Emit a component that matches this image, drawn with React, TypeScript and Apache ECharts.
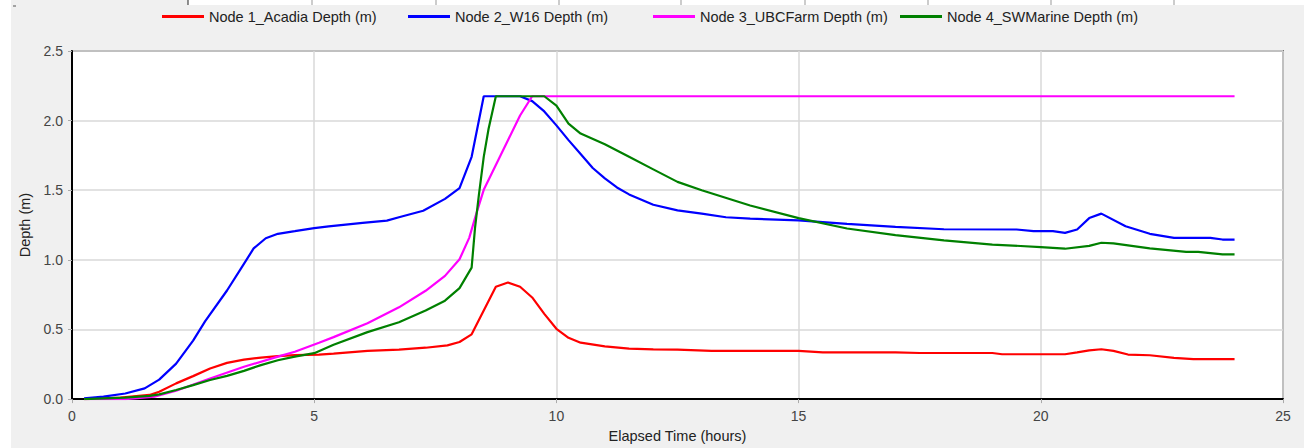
import React, { useEffect, useRef } from "react";
import * as echarts from "echarts";

const seriesNames = [
  "Node 1_Acadia Depth (m)",
  "Node 2_W16 Depth (m)",
  "Node 3_UBCFarm Depth (m)",
  "Node 4_SWMarine Depth (m)",
];
const seriesColors = ["#ff0000", "#0000ff", "#ff00ff", "#008000"];

// [elapsed hours, depth m]
const acadia = [
  [0.25, 0], [1.0, 0.01], [1.6, 0.03], [1.8, 0.053], [2.15, 0.113], [2.5, 0.165],
  [2.85, 0.22], [3.2, 0.26], [3.55, 0.284], [3.9, 0.298], [4.25, 0.308], [4.6, 0.316],
  [5.1, 0.32], [5.4, 0.327], [6.1, 0.346], [6.75, 0.355], [7.3, 0.369], [7.75, 0.386],
  [8.0, 0.41], [8.25, 0.465], [8.5, 0.636], [8.75, 0.807], [9.0, 0.837], [9.25, 0.807],
  [9.5, 0.73], [9.75, 0.612], [10.0, 0.505], [10.25, 0.44], [10.5, 0.405], [11.0, 0.379],
  [11.5, 0.362], [12.0, 0.357], [12.5, 0.355], [13.2, 0.346], [15.0, 0.346], [15.5, 0.336],
  [17.0, 0.336], [17.5, 0.331], [19.0, 0.331], [19.2, 0.322], [20.5, 0.322], [20.75, 0.335],
  [21.0, 0.35], [21.25, 0.358], [21.5, 0.346], [21.8, 0.32], [22.25, 0.315], [22.75, 0.296],
  [23.15, 0.287], [24.0, 0.287],
];
const w16 = [
  [0.25, 0.005], [0.65, 0.018], [1.1, 0.04], [1.5, 0.077], [1.8, 0.14], [2.15, 0.255],
  [2.5, 0.42], [2.75, 0.56], [3.2, 0.78], [3.5, 0.944], [3.75, 1.082], [4.0, 1.155],
  [4.25, 1.187], [4.6, 1.206], [5.0, 1.228], [5.3, 1.241], [6.0, 1.265], [6.5, 1.282],
  [6.75, 1.306], [7.25, 1.353], [7.7, 1.438], [8.0, 1.515], [8.25, 1.74], [8.5, 2.175],
  [9.25, 2.175], [9.5, 2.14], [9.75, 2.066], [10.0, 1.966], [10.25, 1.86], [10.5, 1.76],
  [10.75, 1.66], [11.0, 1.585], [11.25, 1.52], [11.5, 1.47], [12.0, 1.396], [12.5, 1.355],
  [13.0, 1.332], [13.5, 1.306], [14.0, 1.296], [15.0, 1.284], [16.0, 1.258], [17.0, 1.237],
  [18.0, 1.22], [19.5, 1.218], [19.85, 1.206], [20.25, 1.206], [20.5, 1.194], [20.75, 1.218],
  [21.0, 1.3], [21.25, 1.332], [21.75, 1.241], [22.25, 1.187], [22.75, 1.158], [23.5, 1.158],
  [23.75, 1.146], [24.0, 1.146],
];
const ubcFarm = [
  [0.25, 0], [1.1, 0], [1.7, 0.018], [2.15, 0.06], [2.85, 0.148], [3.55, 0.232],
  [4.25, 0.305], [4.6, 0.34], [5.1, 0.405], [5.4, 0.445], [6.1, 0.545], [6.75, 0.659],
  [7.3, 0.778], [7.7, 0.885], [8.0, 1.004], [8.2, 1.158], [8.35, 1.336], [8.5, 1.503],
  [8.75, 1.681], [9.0, 1.859], [9.25, 2.037], [9.5, 2.175], [24.0, 2.175],
];
const swMarine = [
  [0.25, 0], [1.1, 0.01], [1.6, 0.023], [1.8, 0.034], [2.15, 0.065], [2.5, 0.1],
  [2.85, 0.137], [3.2, 0.167], [3.55, 0.203], [3.9, 0.244], [4.25, 0.279], [4.6, 0.305],
  [5.0, 0.33], [5.4, 0.39], [6.1, 0.481], [6.75, 0.552], [7.3, 0.636], [7.7, 0.707],
  [8.0, 0.797], [8.25, 0.944], [8.32, 1.23], [8.4, 1.467], [8.5, 1.74], [8.6, 1.942],
  [8.75, 2.175], [9.75, 2.175], [10.0, 2.108], [10.25, 1.978], [10.5, 1.907], [11.0, 1.83],
  [11.5, 1.74], [12.0, 1.65], [12.5, 1.56], [13.0, 1.5], [14.0, 1.39], [15.0, 1.3],
  [16.0, 1.225], [17.0, 1.178], [18.0, 1.14], [19.0, 1.11], [20.0, 1.092], [20.5, 1.08],
  [21.0, 1.1], [21.25, 1.123], [21.5, 1.118], [22.25, 1.082], [23.0, 1.058], [23.25, 1.058],
  [23.75, 1.04], [24.0, 1.04],
];
const seriesData = [acadia, w16, ubcFarm, swMarine];

const legendLefts = [162, 408, 653, 900];
const stripSeparators = [188, 312, 436, 559, 681, 805, 928, 1051, 1174];

const FONT = "'Liberation Sans', Arial, sans-serif";

export default function App() {
  const ref = useRef<HTMLDivElement>(null);
  useEffect(() => {
    if (!ref.current) return;
    const chart = echarts.init(ref.current, null, { renderer: "svg" });
    const graphics: any[] = [
      { type: "rect", shape: { x: 0, y: 0, width: 11, height: 448 }, style: { fill: "#ffffff" }, silent: true },
      { type: "rect", shape: { x: 188, y: 0, width: 1116, height: 5 }, style: { fill: "#ffffff" }, silent: true },
      { type: "line", shape: { x1: 13, y1: 6, x2: 16, y2: 6 }, style: { stroke: "#555", lineWidth: 1 }, silent: true },
      ...stripSeparators.map((x, i) => ({
        type: "line",
        shape: { x1: x, y1: 0, x2: x, y2: 5 },
        style: { stroke: i === 0 ? "#222" : "#999", lineWidth: 1 },
        silent: true,
      })),
    ];
    chart.setOption({
      animation: false,
      backgroundColor: "#f0f0f0",
      textStyle: { fontFamily: FONT },
      graphic: graphics,
      legend: seriesNames.map((n, i) => ({
        data: [n],
        left: legendLefts[i],
        top: 9,
        padding: 0,
        itemWidth: 42,
        itemHeight: 3,
        itemGap: 6,
        icon: "rect",
        selectedMode: false,
        textStyle: { fontSize: 14.5, color: "#222", fontFamily: FONT },
      })),
      grid: {
        left: 72,
        right: 21,
        top: 51,
        bottom: 46,
        show: true,
        backgroundColor: "#ffffff",
        borderColor: "#777777",
        borderWidth: 2,
      },
      xAxis: {
        type: "value",
        min: 0,
        max: 25,
        interval: 5,
        name: "Elapsed Time (hours)",
        nameLocation: "middle",
        nameGap: 27,
        nameTextStyle: { fontSize: 14.5, color: "#222", fontFamily: FONT },
        axisLine: { show: true, lineStyle: { color: "#000", width: 2 } },
        axisTick: { show: true, length: 4, lineStyle: { color: "#aaa" } },
        axisLabel: { fontSize: 14, color: "#444", margin: 10, fontFamily: FONT },
        splitLine: { show: true, lineStyle: { color: "#d9d9d9", width: 1.5 } },
      },
      yAxis: {
        type: "value",
        min: 0,
        max: 2.5,
        interval: 0.5,
        name: "Depth (m)",
        nameLocation: "middle",
        nameGap: 38,
        nameRotate: 90,
        nameTextStyle: { fontSize: 14.5, color: "#222", fontFamily: FONT },
        axisLine: { show: true, lineStyle: { color: "#000", width: 2 } },
        axisTick: { show: true, length: 4, lineStyle: { color: "#aaa" } },
        axisLabel: {
          fontSize: 14,
          color: "#444",
          margin: 9,
          fontFamily: FONT,
          formatter: (v: number) => v.toFixed(1),
        },
        splitLine: { show: true, lineStyle: { color: "#d9d9d9", width: 1.5 } },
      },
      series: seriesNames.map((n, i) => ({
        name: n,
        type: "line",
        data: seriesData[i],
        showSymbol: false,
        symbol: "none",
        color: seriesColors[i],
        lineStyle: { color: seriesColors[i], width: 2.2 },
      })),
    });
    return () => chart.dispose();
  }, []);
  return (
    <div
      ref={ref}
      style={{ position: "absolute", left: 0, top: 0, width: 1304, height: 448 }}
    />
  );
}
